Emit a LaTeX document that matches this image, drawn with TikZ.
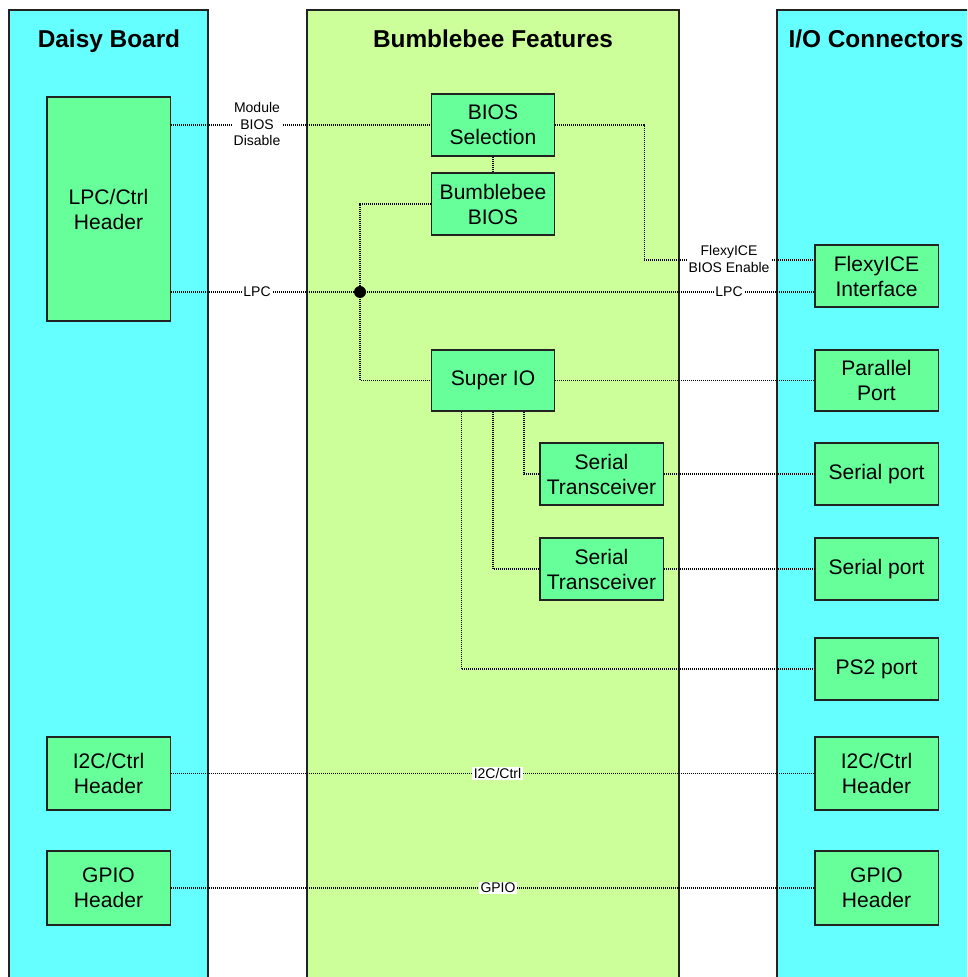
\documentclass[tikz,border=0pt]{standalone}
\usepackage{fontspec}
\setmainfont{Liberation Sans}
\definecolor{panelcyan}{HTML}{66FFFF}
\definecolor{panelgreen}{HTML}{CCFF99}
\definecolor{boxgreen}{HTML}{66FF99}
\definecolor{edge}{HTML}{222222}
\begin{document}
\begin{tikzpicture}[x=0.75pt,y=-0.75pt,
  panel/.style={draw=edge,line width=1pt},
  ptitle/.style={font=\fontsize{18.3}{22}\selectfont\bfseries,anchor=base,inner sep=0pt},
  box/.style={draw=edge,fill=boxgreen,line width=1pt,align=center,inner sep=0pt,
    minimum width=92.5pt,minimum height=46.5pt,
    font=\fontsize{15.8}{18.75}\selectfont},
  conn/.style={line width=0.9pt,dash pattern=on 0.8pt off 0.7pt},
  lbl/.style={fill=white,inner sep=1pt,align=center,font=\fontsize{10.5}{12.3}\selectfont}]
\useasboundingbox (0,0) rectangle (967,977);
\clip (0,0) rectangle (967,977);
% panels
\draw[panel,fill=panelcyan] (9,10) rectangle (208,1000);
\draw[panel,fill=panelgreen] (307,10) rectangle (679,1000);
\draw[panel,fill=panelcyan] (777,10) rectangle (1000,1000);
\node[ptitle] (t1) at (109,48) {Daisy Board};
\node[ptitle] (t2) at (493,48) {Bumblebee Features};
\node[ptitle] (t3) at (876,48) {I/O Connectors};
% boxes
\node[box,minimum height=168pt] (lpc) at (108.5,209) {LPC/Ctrl\\Header};
\node[box,minimum height=54.75pt] (i2cL) at (108.5,773.5) {I2C/Ctrl\\Header};
\node[box,minimum height=55.5pt] (gpioL) at (108.5,888) {GPIO\\Header};
\node[box] (biossel) at (493,125) {BIOS\\Selection};
\node[box] (bbios) at (493,204) {Bumblebee\\BIOS};
\node[box,minimum height=45.75pt] (superio) at (493,380.5) {Super IO};
\node[box] (st1) at (601.5,474) {Serial\\Transceiver};
\node[box] (st2) at (601.5,569) {Serial\\Transceiver};
\node[box] (flexy) at (876.5,276) {FlexyICE\\Interface};
\node[box,minimum height=45.75pt] (par) at (876.5,380.5) {Parallel\\Port};
\node[box] (sp1) at (876.5,474) {Serial port};
\node[box] (sp2) at (876.5,569) {Serial port};
\node[box] (ps2) at (876.5,669) {PS2 port};
\node[box,minimum height=54.75pt] (i2cR) at (876.5,773.5) {I2C/Ctrl\\Header};
\node[box,minimum height=55.5pt] (gpioR) at (876.5,888) {GPIO\\Header};
% connectors
\coordinate (j) at (360,292);
\draw[conn] (lpc.east |- biossel.west) -- (biossel.west);
\draw[conn] (biossel.south) -- (bbios.north);
\draw[conn] (biossel.east) -- ++(89,0) |- ([yshift=12pt]flexy.west);
\draw[conn] (lpc.east |- j) -- (j) -- (flexy.west |- j);
\draw[conn] (bbios.west) -| (j) |- (superio.west);
\draw[conn] (superio.east) -- (par.west);
\draw[conn] ([xshift=23.25pt]superio.south) |- (st1.west);
\draw[conn] (superio.south) |- (st2.west);
\draw[conn] ([xshift=-23.6pt]superio.south) |- (ps2.west);
\draw[conn] (st1.east) -- (sp1.west);
\draw[conn] (st2.east) -- (sp2.west);
\draw[conn] (i2cL.east) -- (i2cR.west);
\draw[conn] (gpioL.east) -- (gpioR.west);
\node[circle,fill=black,inner sep=0pt,minimum size=9pt] (jdot) at (j) {};
% labels
\node[lbl] (lmod) at (257,124) {Module\\BIOS\\Disable};
\node[lbl] (llpc1) at (257,292) {LPC};
\node[lbl] (llpc2) at (729,292) {LPC};
\node[lbl] (lflex) at (729,259) {FlexyICE\\BIOS Enable};
\node[lbl] (li2c) at (497.5,773.5) {I2C/Ctrl};
\node[lbl] (lgpio) at (498,888) {GPIO};
\end{tikzpicture}
\end{document}
